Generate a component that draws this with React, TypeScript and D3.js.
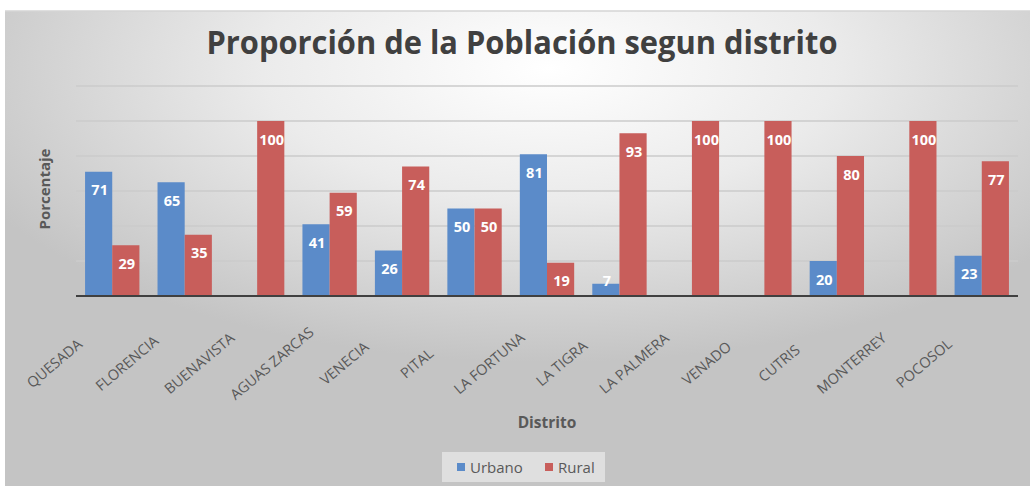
import React from "react";
import * as d3 from "d3";

const distritos = [
  "QUESADA", "FLORENCIA", "BUENAVISTA", "AGUAS ZARCAS", "VENECIA", "PITAL",
  "LA FORTUNA", "LA TIGRA", "LA PALMERA", "VENADO", "CUTRIS", "MONTERREY", "POCOSOL",
];
const urbano = [71, 65, 0, 41, 26, 50, 81, 7, 0, 0, 20, 0, 23];
const rural = [29, 35, 100, 59, 74, 50, 19, 93, 100, 100, 80, 100, 77];
const series = ["Urbano", "Rural"];
const colores = ["#5b8bc9", "#c85e5b"];
const gridTicks = [20, 40, 60, 80, 100, 120];

const W = 1030;
const H = 486;
const left = 76;
const right = 1018;
const base = 296;
const top = 86;

export default function App() {
  const x = d3.scaleBand<string>().domain(distritos).range([left, right]).paddingInner(0.25).paddingOuter(0.125);
  const x1 = d3.scaleBand<string>().domain(series).range([0, x.bandwidth()]);
  const y = d3.scaleLinear().domain([0, 120]).range([base, top]);
  const font = "'Open Sans', 'DejaVu Sans', sans-serif";
  const step = x.step();

  const rows = distritos.map((d, i) => ({ d, vals: [urbano[i], rural[i]] }));

  return (
    <svg width={W} height={H} style={{ position: "absolute", left: 0, top: 0 }} fontFamily={font}>
      <defs>
        <radialGradient id="bg" cx="0.53" cy="0.12" r="0.62" gradientUnits="objectBoundingBox">
          <stop offset="0" stopColor="#ffffff" />
          <stop offset="0.45" stopColor="#ebebeb" />
          <stop offset="1" stopColor="#c4c4c4" />
        </radialGradient>
      </defs>
      <rect x={0} y={0} width={W} height={H} fill="#ffffff" />
      <rect x={5} y={11} width={W - 5} height={H - 11} fill="url(#bg)" />
      <line x1={5} x2={W} y1={11} y2={11} stroke="#d4d4d4" strokeWidth={1.5} />

      <text x={522} y={54} textAnchor="middle" fontSize={32} fontWeight="bold" fill="#404040"
        textLength={631} lengthAdjust="spacingAndGlyphs">
        Proporción de la Población segun distrito
      </text>

      {gridTicks.map((t) => (
        <line key={t} x1={left} x2={right} y1={y(t)} y2={y(t)} stroke="#cbcbcb" strokeWidth={1.3} />
      ))}

      {rows.map((r) => (
        <g key={r.d} transform={`translate(${x(r.d)},0)`}>
          {r.vals.map((v, j) => {
            if (v === 0) return null;
            const bx = x1(series[j])!;
            const bw = x1.bandwidth();
            const ly = Math.min(y(v) + 18, base - 16);
            return (
              <g key={j}>
                <rect x={bx} y={y(v)} width={bw} height={base - y(v)} fill={colores[j]} />
                <text x={bx + bw / 2 + 1} y={ly} textAnchor="middle" dominantBaseline="central"
                  fontSize={14.5} fontWeight="bold" fill="#ffffff">{v}</text>
              </g>
            );
          })}
        </g>
      ))}

      <line x1={left} x2={right} y1={base} y2={base} stroke="#404040" strokeWidth={2} />

      {distritos.map((d) => {
        const cx = x(d)! + x.bandwidth() / 2 - step * 0.8;
        return (
          <text key={d} transform={`translate(${cx},363) rotate(-40)`} textAnchor="middle"
            dominantBaseline="central" fontSize={14.5} fill="#595959">{d}</text>
        );
      })}

      <text transform="translate(44,189) rotate(-90)" textAnchor="middle" dominantBaseline="central"
        fontSize={15} fontWeight="bold" fill="#595959">Porcentaje</text>
      <text x={547} y={422} textAnchor="middle" dominantBaseline="central" fontSize={15.5}
        fontWeight="bold" fill="#595959">Distrito</text>

      <rect x={442} y={452} width={163} height={30} fill="#e6e6e6" opacity={0.8} />
      {series.map((s, i) => {
        const lx = i === 0 ? 457 : 545;
        return (
          <g key={s}>
            <rect x={lx} y={463} width={8} height={8} fill={colores[i]} />
            <text x={lx + 13} y={467} dominantBaseline="central" fontSize={15} fill="#595959">{s}</text>
          </g>
        );
      })}
    </svg>
  );
}
